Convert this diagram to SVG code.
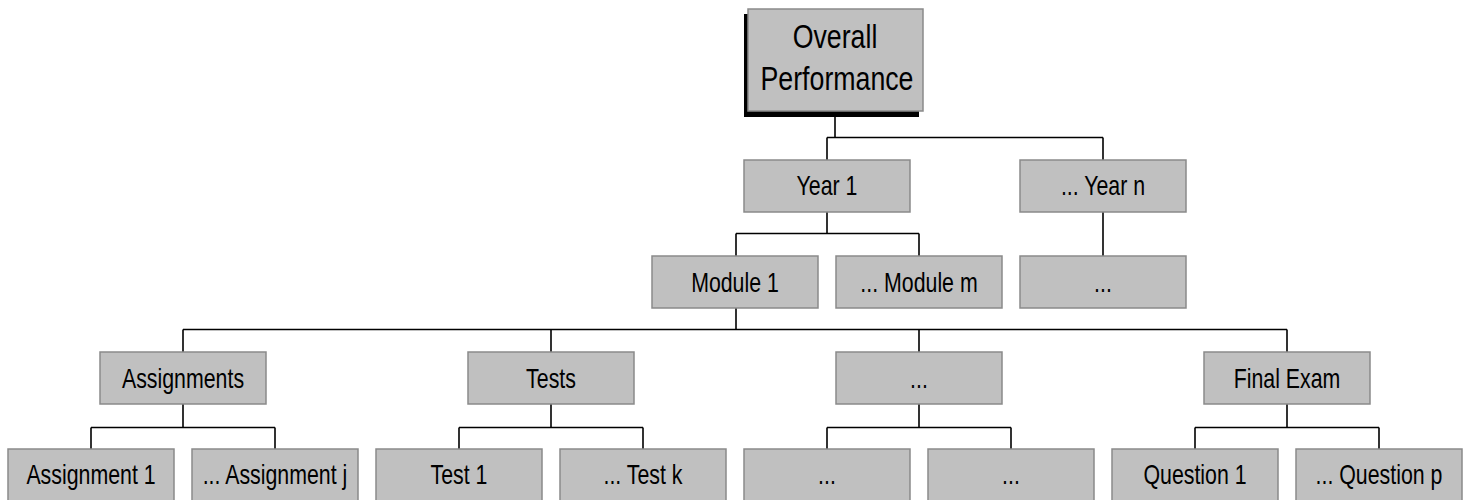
<svg xmlns="http://www.w3.org/2000/svg" width="1470" height="500" viewBox="0 0 1470 500">
  <style>
    .box { fill: #c0c0c0; stroke: #8a8a8a; stroke-width: 1.5; }
    .shadow { fill: #000; }
    .t { font-family: "Liberation Sans", Arial, sans-serif; font-size: 27px; fill: #000; text-anchor: middle; }
    .big { font-size: 33px; }
    .conn { fill: none; stroke: #000; stroke-width: 1.6; }
  </style>
  <rect width="1470" height="500" fill="#fff"/>

  <!-- connectors -->
  <g id="connectors" class="conn">
    <!-- root to years -->
    <path d="M835 111 V137.5 M827 137.5 H1103 M827 137.5 V160 M1103 137.5 V160"/>
    <!-- Year 1 to modules -->
    <path d="M827 212 V233.5 M736 233.5 H919 M736 233.5 V256 M919 233.5 V256"/>
    <!-- Year n to its child -->
    <path d="M1103 212 V256"/>
    <!-- Module 1 to assessment groups -->
    <path d="M736 308 V329.5 M183 329.5 H1287 M183 329.5 V352 M551 329.5 V352 M919 329.5 V352 M1287 329.5 V352"/>
    <!-- groups to items -->
    <path d="M183 404 V427.5 M91 427.5 H275 M91 427.5 V449 M275 427.5 V449"/>
    <path d="M551 404 V427.5 M459 427.5 H643 M459 427.5 V449 M643 427.5 V449"/>
    <path d="M919 404 V427.5 M827 427.5 H1011 M827 427.5 V449 M1011 427.5 V449"/>
    <path d="M1287 404 V427.5 M1195 427.5 H1379 M1195 427.5 V449 M1379 427.5 V449"/>
  </g>

  <!-- root -->
  <g id="overall">
    <rect class="shadow" x="744" y="14" width="175" height="103"/>
    <rect class="box" x="748" y="9" width="175" height="102"/>
    <text class="t big" transform="translate(835 48) scale(0.81 1)">Overall</text>
    <text class="t big" transform="translate(837 90) scale(0.81 1)">Performance</text>
  </g>

  <!-- years -->
  <g id="year1">
    <rect class="box" x="744" y="160" width="166" height="52"/>
    <text class="t" transform="translate(827 195) scale(0.79 1)">Year 1</text>
  </g>
  <g id="yearn">
    <rect class="box" x="1020" y="160" width="166" height="52"/>
    <text class="t" transform="translate(1103 195) scale(0.79 1)">... Year n</text>
  </g>

  <!-- modules -->
  <g id="module1">
    <rect class="box" x="652" y="256" width="166" height="52"/>
    <text class="t" transform="translate(735 292) scale(0.79 1)">Module 1</text>
  </g>
  <g id="modulem">
    <rect class="box" x="836" y="256" width="166" height="52"/>
    <text class="t" transform="translate(919 292) scale(0.79 1)">... Module m</text>
  </g>
  <g id="yearn-child">
    <rect class="box" x="1020" y="256" width="166" height="52"/>
    <text class="t" transform="translate(1103 292) scale(0.79 1)">...</text>
  </g>

  <!-- assessment groups -->
  <g id="assignments">
    <rect class="box" x="100" y="352" width="166" height="52"/>
    <text class="t" transform="translate(183 388) scale(0.79 1)">Assignments</text>
  </g>
  <g id="tests">
    <rect class="box" x="468" y="352" width="166" height="52"/>
    <text class="t" transform="translate(551 388) scale(0.79 1)">Tests</text>
  </g>
  <g id="other-group">
    <rect class="box" x="836" y="352" width="166" height="52"/>
    <text class="t" transform="translate(919 388) scale(0.79 1)">...</text>
  </g>
  <g id="final-exam">
    <rect class="box" x="1204" y="352" width="166" height="52"/>
    <text class="t" transform="translate(1287 388) scale(0.79 1)">Final Exam</text>
  </g>

  <!-- items -->
  <g id="assignment1">
    <rect class="box" x="8" y="449" width="166" height="53"/>
    <text class="t" transform="translate(91 484) scale(0.79 1)">Assignment 1</text>
  </g>
  <g id="assignmentj">
    <rect class="box" x="192" y="449" width="166" height="53"/>
    <text class="t" transform="translate(275 484) scale(0.79 1)">... Assignment j</text>
  </g>
  <g id="test1">
    <rect class="box" x="376" y="449" width="166" height="53"/>
    <text class="t" transform="translate(459 484) scale(0.79 1)">Test 1</text>
  </g>
  <g id="testk">
    <rect class="box" x="560" y="449" width="166" height="53"/>
    <text class="t" transform="translate(643 484) scale(0.79 1)">... Test k</text>
  </g>
  <g id="other-item1">
    <rect class="box" x="744" y="449" width="166" height="53"/>
    <text class="t" transform="translate(827 484) scale(0.79 1)">...</text>
  </g>
  <g id="other-item2">
    <rect class="box" x="928" y="449" width="166" height="53"/>
    <text class="t" transform="translate(1011 484) scale(0.79 1)">...</text>
  </g>
  <g id="question1">
    <rect class="box" x="1112" y="449" width="166" height="53"/>
    <text class="t" transform="translate(1195 484) scale(0.79 1)">Question 1</text>
  </g>
  <g id="questionp">
    <rect class="box" x="1296" y="449" width="166" height="53"/>
    <text class="t" transform="translate(1379 484) scale(0.79 1)">...  Question p</text>
  </g>
</svg>
